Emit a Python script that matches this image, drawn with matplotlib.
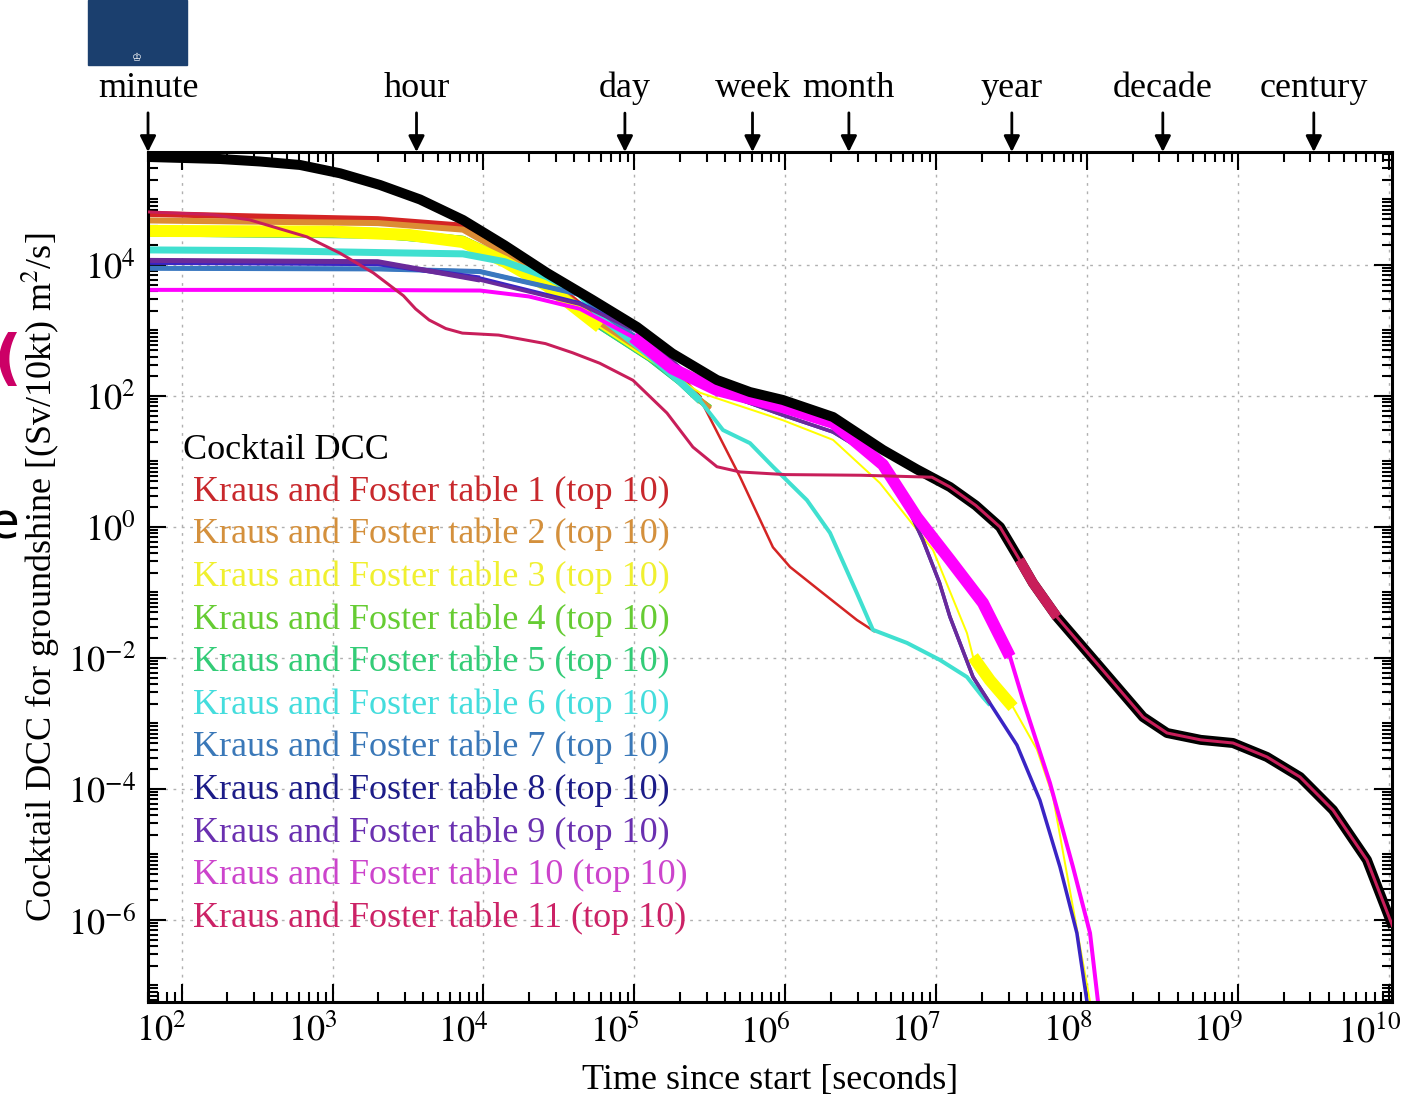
import numpy as np
import matplotlib.pyplot as plt
from matplotlib.patches import Rectangle
from matplotlib.ticker import FixedLocator, FixedFormatter, LogLocator, NullFormatter
from matplotlib.transforms import blended_transform_factory, ScaledTranslation

plt.rcParams['font.family'] = ['Liberation Serif', 'DejaVu Serif']
plt.rcParams['mathtext.fontset'] = 'stix'

# values: log10(time [s]) and log10(DCC)
cocktail_t = [1.778, 2.255, 2.52, 2.785, 3.05, 3.315, 3.58, 3.864, 4.14, 4.421, 4.72, 5.017, 5.25, 5.546,
              5.765, 5.983, 6.315, 6.646, 6.87, 7.089, 7.26, 7.421, 7.55, 7.639, 7.798, 8.083, 8.368,
              8.527, 8.75, 8.964, 9.189, 9.408, 9.626, 9.851, 10.023]
cocktail_v = [5.649, 5.618, 5.58, 5.527, 5.40, 5.221, 5.00, 4.687, 4.30, 3.878, 3.47, 3.053, 2.65, 2.244,
              2.06, 1.939, 1.679, 1.176, 0.88, 0.611, 0.33, 0.0, -0.5, -0.855, -1.374, -2.137, -2.901,
              -3.145, -3.25, -3.298, -3.511, -3.817, -4.321, -5.084, -6.107]

kf1_t = [1.778, 2.5, 3.3, 3.864, 4.14, 4.421, 4.77, 5.1, 5.3, 5.434, 5.70, 5.917, 6.03, 6.248, 6.473, 6.593]
kf1_v = [4.78, 4.74, 4.70, 4.60, 4.22, 3.80, 3.15, 2.65, 2.28, 1.96, 0.76, -0.31, -0.61, -1.01, -1.42, -1.60]

kf2_t = [1.778, 3.3, 3.864, 4.14, 4.421, 4.77, 5.1, 5.3, 5.434, 5.50]
kf2_v = [4.68, 4.64, 4.54, 4.18, 3.76, 3.12, 2.62, 2.25, 1.94, 1.80]

kf3_t = [1.778, 3.0, 3.5, 3.864, 4.14, 4.421, 4.77, 5.1, 5.434, 5.983, 6.315, 6.626, 6.977, 7.202,
         7.242, 7.354, 7.507, 7.666, 7.772, 8.017]
kf3_v = [4.52, 4.51, 4.46, 4.35, 4.05, 3.68, 3.05, 2.55, 2.05, 1.63, 1.33, 0.67, -0.35, -1.62,
         -1.98, -2.34, -2.75, -3.40, -4.12, -7.25]

kf4_t = [1.778, 3.3, 3.864, 4.14, 4.421, 4.77, 5.1, 5.3, 5.434, 5.5]
kf4_v = [4.55, 4.52, 4.40, 4.10, 3.72, 3.08, 2.58, 2.22, 1.93, 1.82]

kf5_t = [1.778, 3.3, 3.864, 4.14, 4.421, 4.77, 5.1, 5.3, 5.434]
kf5_v = [4.48, 4.45, 4.34, 4.05, 3.70, 3.06, 2.57, 2.21, 1.92]

kf6_t = [1.778, 2.5, 3.3, 3.864, 4.14, 4.421, 4.64, 4.77, 5.1, 5.3, 5.434, 5.586, 5.765, 5.917, 6.142,
         6.295, 6.473, 6.579, 6.805, 7.023, 7.202, 7.308, 7.354]
kf6_v = [4.23, 4.22, 4.19, 4.17, 4.05, 3.82, 3.55, 3.22, 2.62, 2.22, 1.93, 1.48, 1.28, 0.92, 0.41,
         -0.09, -1.01, -1.57, -1.77, -2.03, -2.29, -2.60, -2.72]

kf7_t = [1.778, 3.3, 3.977, 4.64, 4.77, 5.017, 5.1]
kf7_v = [3.95, 3.94, 3.90, 3.55, 3.30, 2.88, 2.70]

kf8_t = [1.778, 3.3, 3.977, 4.64, 5.04, 5.43, 5.98, 6.315, 6.646, 6.78, 6.91, 7.02, 7.089, 7.242,
         7.354, 7.533, 7.685, 7.818, 7.93, 7.997]
kf8_v = [4.04, 4.02, 3.80, 3.42, 2.96, 2.17, 1.71, 1.45, 0.99, 0.45, -0.2, -0.85, -1.37, -2.29,
         -2.69, -3.33, -4.17, -5.19, -6.20, -7.25]

kf9_t = [1.778, 3.3, 3.977, 4.64, 5.04, 5.43, 5.98, 6.315, 6.646, 6.78, 6.91, 7.02, 7.089, 7.242, 7.354]
kf9_v = [4.07, 4.05, 3.77, 3.40, 2.96, 2.17, 1.71, 1.45, 0.99, 0.45, -0.2, -0.85, -1.37, -2.29, -2.69]

kf10_t = [1.778, 3.0, 3.977, 4.3, 4.64, 4.99, 5.25, 5.546, 5.983, 6.315, 6.646, 6.87, 7.089, 7.308,
          7.487, 7.573, 7.752, 7.904, 8.017, 8.07]
kf10_v = [3.62, 3.62, 3.61, 3.52, 3.33, 2.90, 2.42, 2.09, 1.83, 1.59, 0.95, 0.15, -0.50, -1.16,
          -1.98, -2.64, -3.91, -5.19, -6.20, -7.25]

kf11_t = [1.778, 2.2, 2.45, 2.83, 3.05, 3.27, 3.47, 3.55, 3.64, 3.75, 3.86, 4.1, 4.41, 4.59, 4.77,
          4.99, 5.215, 5.387, 5.546, 5.70, 6.0, 6.5, 6.97, 7.089, 7.26, 7.421, 7.55, 7.639, 7.798,
          8.083, 8.368, 8.527, 8.75, 8.964, 9.189, 9.408, 9.626, 9.851, 10.023]
kf11_v = [4.81, 4.77, 4.69, 4.43, 4.18, 3.88, 3.53, 3.33, 3.16, 3.03, 2.96, 2.93, 2.80, 2.66, 2.50,
          2.24, 1.74, 1.22, 0.92, 0.84, 0.80, 0.79, 0.76, 0.611, 0.33, 0.0, -0.5, -0.855, -1.374,
          -2.137, -2.901, -3.145, -3.25, -3.298, -3.511, -3.817, -4.321, -5.084, -6.107]

kf_t = [kf1_t, kf2_t, kf3_t, kf4_t, kf5_t, kf6_t, kf7_t, kf8_t, kf9_t, kf10_t, kf11_t]
kf_v = [kf1_v, kf2_v, kf3_v, kf4_v, kf5_v, kf6_v, kf7_v, kf8_v, kf9_v, kf10_v, kf11_v]
kf_names = ['Kraus and Foster table %d (top 10)' % (i + 1) for i in range(11)]

# time markers on the top axis
mark_names = ['minute', 'hour', 'day', 'week', 'month', 'year', 'decade', 'century']
mark_secs = [60, 3600, 86400, 604800, 2.63e6, 3.156e7, 3.156e8, 3.156e9]

x_exps = [2, 3, 4, 5, 6, 7, 8, 9, 10]
y_exps = [-6, -4, -2, 0, 2, 4]

# styles
kf_colors = ['#d42424', '#dc8c34', '#ffff00', '#66d633', '#33d07a', '#40e0d0',
             '#3a78c0', '#3a24c4', '#6a2a9a', '#ff00ff', '#c81e5a']
kf_text_colors = ['#c8282c', '#d4903c', '#f0f030', '#66cc33', '#33cc77', '#44dddd',
                  '#3a78b8', '#1c1c88', '#6a30b0', '#cc44cc', '#cc2266']
kf_thin = [2.5, 2.5, 2.0, 6, 6, 4.0, 4, 3.5, 3.5, 4.0, 3.0]
kf_thick = [6, 6, 12, 6, 6, 7, 5, 5, 5, 12, 10]
kf_ranges = [[(1.778, 5.434)], [(1.778, 5.5)], [(1.778, 4.77), (7.242, 7.507)], [(1.778, 5.5)],
             [(1.778, 5.434)], [(1.778, 5.434)], [(1.778, 5.1)], [(1.778, 3.977)], [(1.778, 3.977)],
             [(4.99, 7.487)], [(7.55, 7.798)]]
draw_order = [3, 4, 0, 1, 2, 5, 6, 7, 8, 9]

PX = 0.72  # points per pixel at dpi 100

fig = plt.figure(figsize=(14.09, 10.95), dpi=100)
ax = fig.add_axes([148 / 1409, 1 - 1002 / 1095, 1244 / 1409, 850 / 1095])
ax.set_xscale('log')
ax.set_yscale('log')


def draw_table(i, z):
    t = np.array(kf_t[i])
    v = np.array(kf_v[i])
    ax.plot(10 ** t, 10 ** v, color=kf_colors[i], lw=kf_thin[i] * PX, zorder=z,
            solid_joinstyle='round', solid_capstyle='butt')
    for lo, hi in kf_ranges[i]:
        m = (t >= lo - 1e-9) & (t <= hi + 1e-9)
        ax.plot(10 ** t[m], 10 ** v[m], color=kf_colors[i], lw=kf_thick[i] * PX, zorder=z,
                solid_joinstyle='round', solid_capstyle='butt')


for i in draw_order:
    draw_table(i, 2)

ax.plot(10 ** np.array(cocktail_t), 10 ** np.array(cocktail_v), color='black', lw=10 * PX,
        zorder=3, solid_joinstyle='round', solid_capstyle='butt')
draw_table(10, 4)

ax.set_xlim(10 ** 1.778, 10 ** 10.017)
ax.set_ylim(10 ** -7.252, 10 ** 5.725)

# ticks
ax.xaxis.set_major_locator(FixedLocator([10.0 ** e for e in x_exps]))
ax.xaxis.set_major_formatter(FixedFormatter([r'$10^{%d}$' % e for e in x_exps]))
ax.xaxis.set_minor_locator(LogLocator(base=10, subs=np.arange(2, 10), numticks=100))
ax.xaxis.set_minor_formatter(NullFormatter())
ax.yaxis.set_major_locator(FixedLocator([10.0 ** e for e in y_exps]))
ax.yaxis.set_major_formatter(FixedFormatter([r'$10^{%d}$' % e for e in y_exps]))
ax.yaxis.set_minor_locator(LogLocator(base=10, subs=np.arange(1, 10), numticks=100))
ax.yaxis.set_minor_formatter(NullFormatter())
ax.tick_params(which='both', direction='in', top=True, right=True, width=1.5)
ax.tick_params(which='major', length=13, labelsize=26, pad=9)
ax.tick_params(which='minor', length=7)
for s in ax.spines.values():
    s.set_linewidth(2.2)

# x tick labels sit a little left of their ticks in the original
shift = ScaledTranslation(-0.2, 0, fig.dpi_scale_trans)
for lab in ax.get_xticklabels():
    lab.set_transform(lab.get_transform() + shift)

ax.grid(True, which='major', color='#b0b0b0', lw=1.0, linestyle=(0, (2, 4)), zorder=0)

ax.set_xlabel('Time since start [seconds]', fontsize=26, labelpad=10)
ax.set_ylabel(r'Cocktail DCC for groundshine [(Sv/10kt) m$^2$/s]', fontsize=26, labelpad=4)

# top markers with arrows
tr = blended_transform_factory(ax.transData, ax.transAxes)
for name, s in zip(mark_names, mark_secs):
    ax.annotate(name, xy=(s, 1.0), xycoords=tr, xytext=(0, 64), textcoords='offset pixels',
                ha='center', va='center', fontsize=26, annotation_clip=False,
                arrowprops=dict(arrowstyle='-|>', color='black', lw=2, mutation_scale=24,
                                shrinkA=4, shrinkB=0))

# legend as coloured text
ax.text((183 - 148) / 1244, (1002 - 450) / 850, 'Cocktail DCC',
        transform=ax.transAxes, fontsize=26, color='black', va='center', ha='left', zorder=5)
for i, name in enumerate(kf_names):
    ax.text((193 - 148) / 1244, (1002 - 492 - i * 42.6) / 850, name, transform=ax.transAxes,
            fontsize=26, color=kf_text_colors[i], va='center', ha='left', zorder=5)

# slide leftovers around the chart
fig.patches.append(Rectangle((88 / 1409, 1 - 65 / 1095), 99 / 1409, 65 / 1095,
                             transform=fig.transFigure, color='#1b3f6e', zorder=0))
fig.text(137 / 1409, 1 - 58 / 1095, '\u2654', color='white', fontsize=8, ha='center',
         va='center', family='DejaVu Sans')
fig.text(-6 / 1409, 1 - 362 / 1095, '(', color='#cc0066', fontsize=44, ha='left', va='center',
         family='DejaVu Sans', weight='bold')
fig.text(-12 / 1409, 1 - 525 / 1095, 'e', color='black', fontsize=36, ha='left', va='center',
         family='DejaVu Sans')

fig.savefig('out.png', dpi=100)
